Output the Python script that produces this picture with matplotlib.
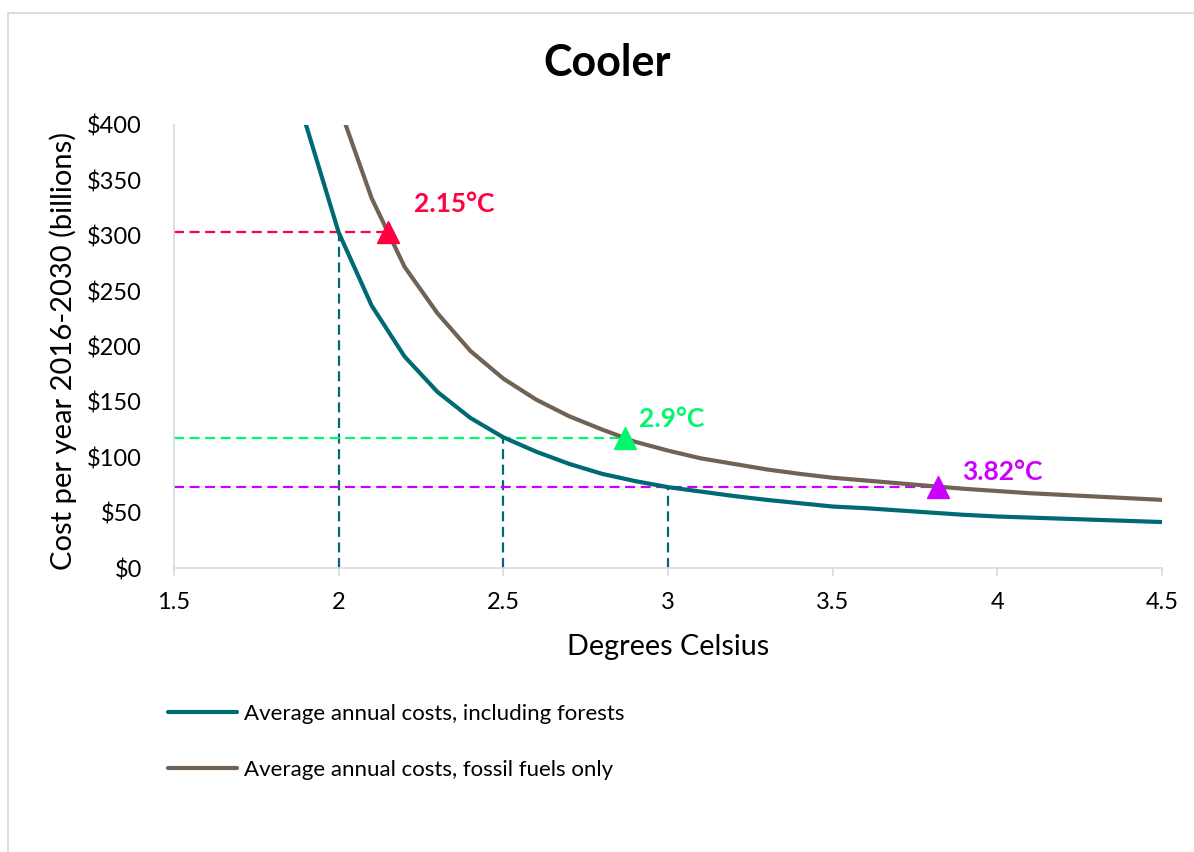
import matplotlib
matplotlib.use('Agg')
import matplotlib.pyplot as plt
from matplotlib.lines import Line2D
from matplotlib.ticker import FuncFormatter, MultipleLocator

plt.rcParams['font.family'] = ['Lato', 'DejaVu Sans']

# ── DATA ─────────────────────────────────────────────────────────────────────
temps_forest = [1.9, 2.0, 2.1, 2.2, 2.3, 2.4, 2.5, 2.6, 2.7, 2.8, 2.9, 3.0,
                3.1, 3.2, 3.3, 3.4, 3.5, 3.6, 3.7, 3.8, 3.9, 4.0,
                4.1, 4.2, 4.3, 4.4, 4.5]
cost_forest = [401, 303, 237, 191, 159, 135.5, 118, 105, 94, 85, 78.5, 73,
               69, 65, 61.5, 58.5, 55.5, 54, 52, 50, 48, 46.5,
               45.5, 44.5, 43.5, 42.5, 41.5]

temps_fossil = [2.0, 2.1, 2.2, 2.3, 2.4, 2.5, 2.6, 2.7, 2.8, 2.9, 3.0,
                3.1, 3.2, 3.3, 3.4, 3.5, 3.6, 3.7, 3.8, 3.9, 4.0,
                4.1, 4.2, 4.3, 4.4, 4.5]
cost_fossil = [418, 334, 272, 230, 196, 171, 152, 137, 125, 114, 106,
               99, 94, 89, 85, 81.5, 79, 76.5, 74, 71.5, 69.5,
               67.5, 66, 64.5, 63, 61.5]

target_temps = [2.15, 2.87, 3.82]
target_costs = [303.5, 117.2, 73]
target_labels = ["2.15°C", "2.9°C", "3.82°C"]
target_colors = ["#FF0040", "#00F86A", "#CC00FF"]
label_offsets = [(19, 20), (10, 14), (17, 11)]   # points, from marker

guide_temps = [2.0, 2.5, 3.0]   # where the forest curve meets each budget

series_names = ["Average annual costs, including forests",
                "Average annual costs, fossil fuels only"]
teal = "#006A74"
brown = "#706356"
axis_grey = "#D9D9D9"

# ── FIGURE ───────────────────────────────────────────────────────────────────
fig = plt.figure(figsize=(11.94, 8.52), dpi=100)
ax = fig.add_axes([174/1194, 1-568/852, 988/1194, 443/852])

l1, = ax.plot(temps_forest, cost_forest, color=teal, lw=3, solid_capstyle='round')
l2, = ax.plot(temps_fossil, cost_fossil, color=brown, lw=3, solid_capstyle='round')

# dashed guides: horizontal budget line + vertical drop from forest curve
for t, c, col, gx in zip(target_temps, target_costs, target_colors, guide_temps):
    ax.plot([1.5, t], [c, c], color=col, lw=1.6, ls=(0, (4.5, 2.5)), zorder=1)
    ax.plot([gx, gx], [0, c], color=teal, lw=1.6, ls=(0, (4.5, 2.5)), zorder=1)

for t, c, col, lab, off in zip(target_temps, target_costs, target_colors,
                               target_labels, label_offsets):
    ax.plot(t, c, marker='^', ms=16, color=col, mec=col, zorder=5, clip_on=False)
    ax.annotate(lab, xy=(t, c), xytext=off, textcoords='offset points',
                color=col, fontsize=19, fontweight='bold', ha='left', va='center')

ax.set_xlim(1.5, 4.5)
ax.set_ylim(0, 400)
ax.xaxis.set_major_locator(MultipleLocator(0.5))
ax.yaxis.set_major_locator(MultipleLocator(50))
ax.xaxis.set_major_formatter(FuncFormatter(lambda v, p: f"{v:g}"))
ax.yaxis.set_major_formatter(FuncFormatter(lambda v, p: f"${v:.0f}"))

for side in ['top', 'right']:
    ax.spines[side].set_visible(False)
for side in ['left', 'bottom']:
    ax.spines[side].set_color(axis_grey)
    ax.spines[side].set_linewidth(1.2)

ax.tick_params(axis='x', direction='out', length=6, width=1.2, color=axis_grey,
               labelsize=17, pad=11)
ax.tick_params(axis='y', length=0, labelsize=17, pad=23)

ax.set_xlabel("Degrees Celsius", fontsize=20.7)
ax.set_ylabel("Cost per year 2016-2030 (billions)", fontsize=21)
ax.xaxis.set_label_coords(0.5, -0.150)
ax.yaxis.set_label_coords(-0.098, 0.49)

fig.text(607.5/1194, 1-63/852, "Cooler", fontsize=31, fontweight='bold',
         ha='center', va='center')

fig.legend([l1, l2], series_names, loc='upper left',
           bbox_to_anchor=(168/1194, 1-704/852), frameon=False, fontsize=16,
           handlelength=3.1, handletextpad=0.3, labelspacing=1.6,
           borderpad=0, borderaxespad=0)

# chart area border (Excel-style, cropped on right/bottom)
fig.add_artist(Line2D([8/1194, 1], [1-12.5/852, 1-12.5/852], color=axis_grey, lw=1.3))
fig.add_artist(Line2D([8/1194, 8/1194], [0, 1-12.5/852], color=axis_grey, lw=1.3))

plt.savefig("out.png", dpi=100)
plt.close()
